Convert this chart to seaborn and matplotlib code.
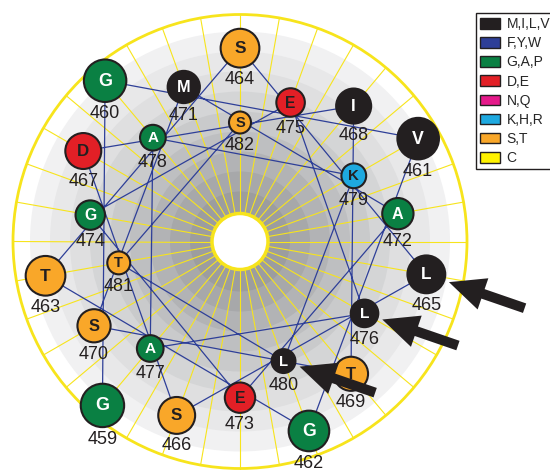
import numpy as np
import pandas as pd
import seaborn as sns
import matplotlib.pyplot as plt
from matplotlib.patches import Circle, Patch

# Helical wheel of residues 459-482
numbers = list(range(459, 483))
residues = list("GGVGTSLSDITSMAEGELAAKLTS")
highlighted = [465, 476, 480]

group_labels = ["M,I,L,V", "F,Y,W", "G,A,P", "D,E", "N,Q", "K,H,R", "S,T", "C"]
group_colors = ["#231f20", "#2e3f98", "#0a8043", "#e21f26", "#e5198a", "#1ea9e0", "#f9a729", "#fff200"]
light_text_groups = ["M,I,L,V", "F,Y,W", "G,A,P"]

aa_group = {}
for label in group_labels:
    for aa in label.split(","):
        aa_group[aa] = label

# wheel geometry (in pixel units of the output)
cx, cy = 240, 241.5
start_angle, step_angle = 230.0, -100.0
r_first, r_last = 214, 119
m_first, m_last = 21.7, 11.0
outer_r, inner_r = 227, 28

idx = np.arange(len(numbers))
frac = idx / (len(numbers) - 1)
ang = np.deg2rad(start_angle + step_angle * idx)
rad = r_first + (r_last - r_first) * frac
mr = m_first + (m_last - m_first) * frac

df = pd.DataFrame({
    "num": numbers,
    "aa": residues,
    "group": [aa_group[a] for a in residues],
    "x": cx + rad * np.cos(ang),
    "y": cy - rad * np.sin(ang),
    "mr": mr,
})
df["area"] = (2 * df["mr"] * 0.72) ** 2

sns.set_theme(style="white")
plt.rcParams['font.family'] = ['Liberation Sans', 'DejaVu Sans']

fig = plt.figure(figsize=(5.5, 4.7), dpi=100)
ax = fig.add_axes([0, 0, 1, 1])
ax.set_xlim(0, 550)
ax.set_ylim(470, 0)
ax.axis('off')

# gray background rings, darker towards the middle
band_r = [210, 190, 170, 150, 130, 110, 90, 70, 50]
band_c = ["#f1f1f2", "#e8e8e9", "#dfdfe0", "#d4d5d6", "#c9cacb", "#bebfc1", "#b2b3b5", "#a7a8aa", "#9c9d9f"]
for r, c in zip(band_r, band_c):
    ax.add_patch(Circle((cx, cy), r, fc=c, ec='none', zorder=0))

# yellow spokes
yellow = "#f7e41c"
for a in np.deg2rad(np.arange(0, 360, 10) + start_angle % 10):
    ax.plot([cx + inner_r * np.cos(a), cx + outer_r * np.cos(a)],
            [cy - inner_r * np.sin(a), cy - outer_r * np.sin(a)],
            color=yellow, lw=0.8, zorder=1)

# connections between consecutive residues
ax.plot(df["x"], df["y"], color="#2e3f98", lw=0.9, zorder=2)

ax.add_patch(Circle((cx, cy), outer_r, fill=False, ec=yellow, lw=2, zorder=3))
ax.add_patch(Circle((cx, cy), inner_r, fc="white", ec=yellow, lw=2.5, zorder=3))

palette = dict(zip(group_labels, group_colors))
sns.scatterplot(data=df, x="x", y="y", hue="group", palette=palette,
                size="area", sizes=(df["area"].min(), df["area"].max()),
                size_norm=(df["area"].min(), df["area"].max()),
                edgecolor="#231f20", linewidth=1.5, legend=False, ax=ax, zorder=5)
ax.set_xlim(0, 550)
ax.set_ylim(470, 0)

for _, row in df.iterrows():
    fs = 13 - 2.5 * (row["num"] - numbers[0]) / (len(numbers) - 1)
    tc = "white" if row["group"] in light_text_groups else "#231f20"
    ax.text(row["x"], row["y"] + 0.5, row["aa"], ha="center", va="center",
            fontsize=fs, fontweight="bold", color=tc, zorder=6)
    ax.text(row["x"], row["y"] + row["mr"] + 12, str(row["num"]), ha="center",
            va="center", fontsize=13, color="#231f20", zorder=6)

# arrows pointing at the leucines
u = np.array([np.cos(np.deg2rad(19)), np.sin(np.deg2rad(19))])
for n in highlighted:
    row = df[df["num"] == n].iloc[0]
    tip = np.array([row["x"], row["y"]]) + (row["mr"] + 5) * u
    tail = tip + 80 * u
    ax.arrow(tail[0], tail[1], tip[0] - tail[0], tip[1] - tail[1], width=10,
             head_width=33, head_length=36, length_includes_head=True,
             fc="#231f20", ec="none", zorder=7)

handles = [Patch(fc=c, ec="#231f20", lw=1) for c in group_colors]
leg = fig.legend(handles, group_labels, loc="upper left",
                 bbox_to_anchor=(476 / 550, 1 - 13 / 470), fontsize=10,
                 frameon=True, fancybox=False, edgecolor="#231f20", framealpha=1,
                 handlelength=1.45, handleheight=0.8, handletextpad=0.45,
                 labelspacing=0.37, borderpad=0.3, borderaxespad=0)
leg.get_frame().set_linewidth(1)

fig.savefig("out.png", dpi=100)
